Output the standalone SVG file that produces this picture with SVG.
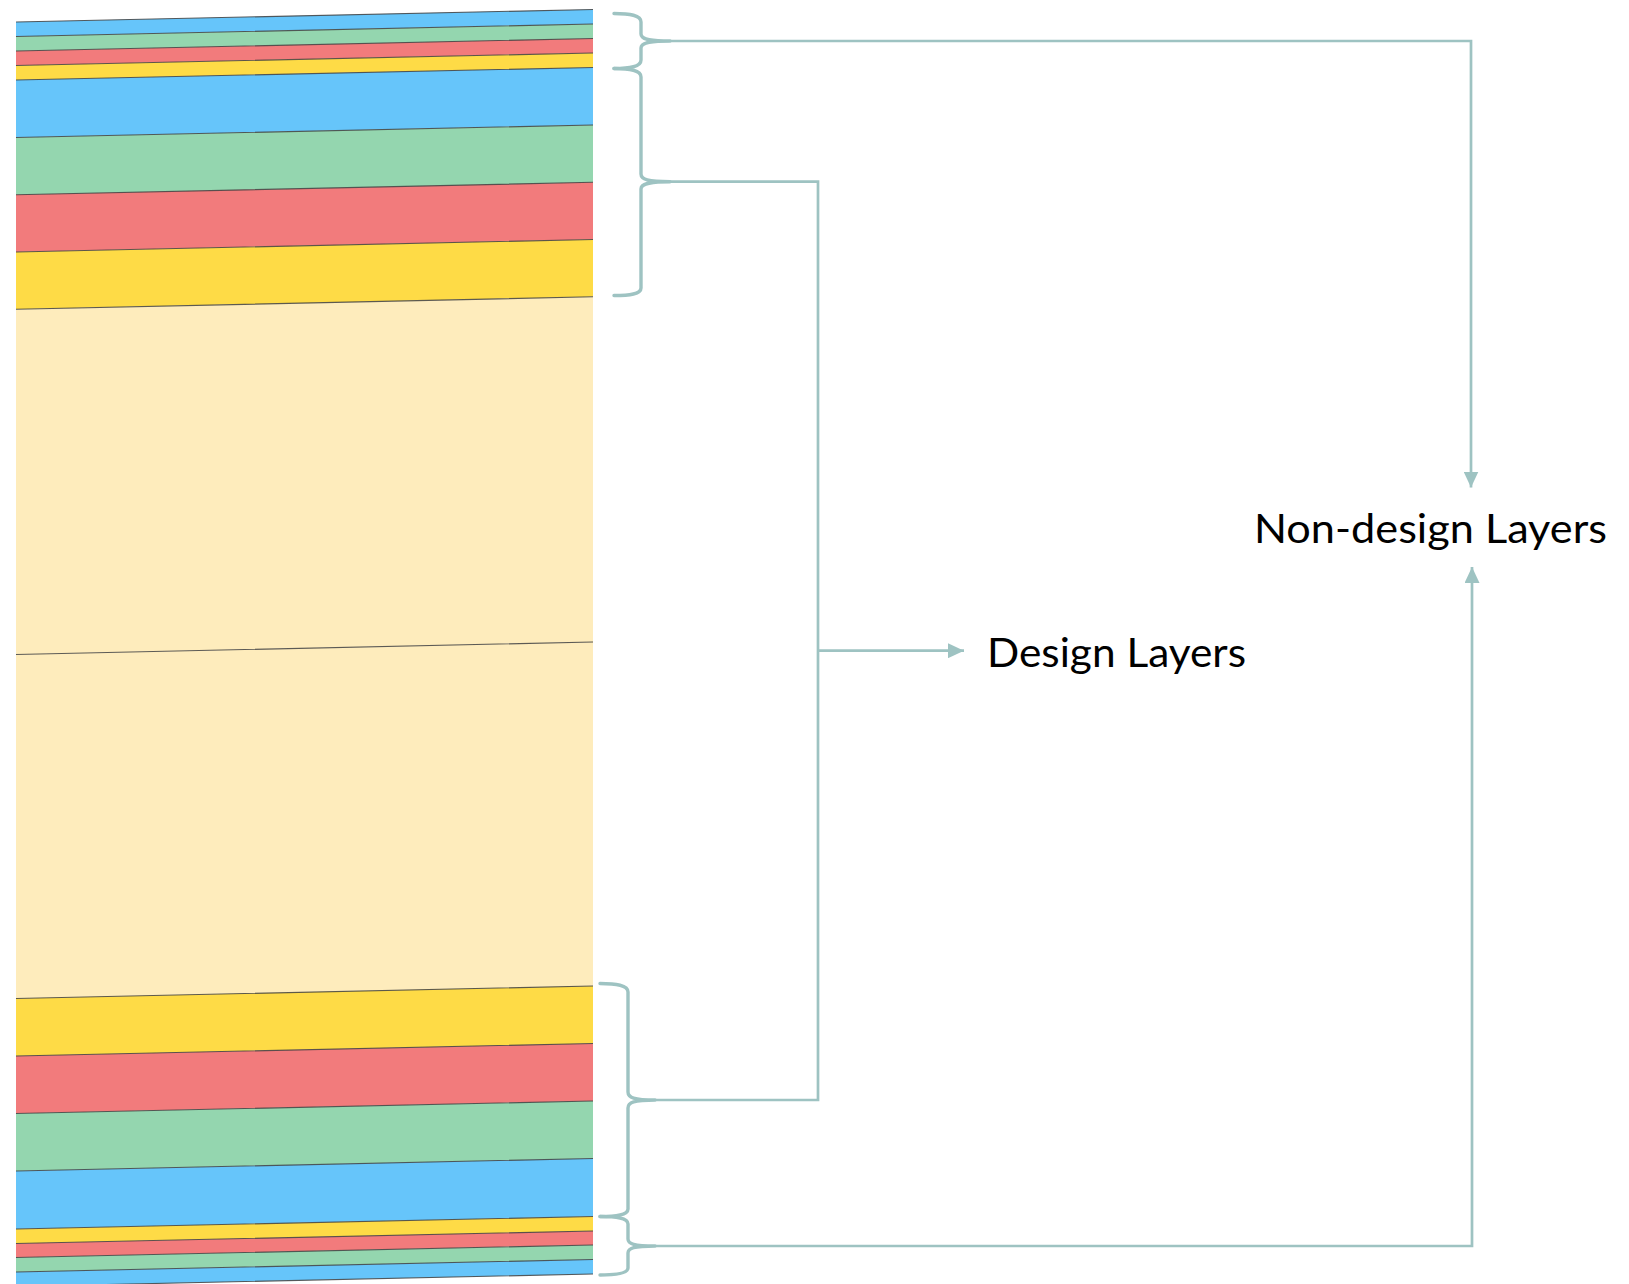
<svg xmlns="http://www.w3.org/2000/svg" width="1629" height="1284" viewBox="0 0 1629 1284">
  <style>
    .blue { fill: #66C5FA; }
    .green { fill: #94D6AF; }
    .red { fill: #F27B7C; }
    .yellow { fill: #FEDB46; }
    .cream { fill: #FEECBC; }
    .seam { stroke: #3f3f3f; stroke-width: 1.1; stroke-opacity: 0.85; fill: none; }
    .brace { fill: none; stroke: #9EC3C2; stroke-width: 3.4; stroke-linecap: round; stroke-linejoin: round; }
    .conn { fill: none; stroke: #9EC3C2; stroke-width: 2.7; }
    .label { font-family: Lato, "Open Sans", "Liberation Sans", sans-serif; font-size: 40px; fill: #000; }
  </style>
  <defs>
    <marker id="arrow" viewBox="0 0 16 15" refX="16" refY="7.5" markerWidth="16" markerHeight="15" markerUnits="userSpaceOnUse" orient="auto">
      <path d="M0,0 L16,7.5 L0,15 z" fill="#9EC3C2"/>
    </marker>
  </defs>
  <rect width="1629" height="1284" fill="#ffffff"/>

  <!-- Layer stack: each band is a slightly tilted parallelogram -->
  <g id="stack">
    <g id="top-nondesign">
      <polygon class="blue" points="16,22 593,9.5 593,24 16,36.5"/>
      <polygon class="green" points="16,36.5 593,24 593,38.5 16,51"/>
      <polygon class="red" points="16,51 593,38.5 593,53 16,65.5"/>
      <polygon class="yellow" points="16,65.5 593,53 593,67.5 16,80"/>
    </g>
    <g id="top-design">
      <polygon class="blue" points="16,80 593,67.5 593,125 16,137.5"/>
      <polygon class="green" points="16,137.5 593,125 593,182.3 16,194.8"/>
      <polygon class="red" points="16,194.8 593,182.3 593,239.5 16,252"/>
      <polygon class="yellow" points="16,252 593,239.5 593,296.8 16,309.3"/>
    </g>
    <g id="core">
      <polygon class="cream" points="16,309.3 593,296.8 593,642 16,654.5"/>
      <polygon class="cream" points="16,654.5 593,642 593,986 16,998.5"/>
    </g>
    <g id="bottom-design">
      <polygon class="yellow" points="16,998.5 593,986 593,1043.5 16,1056"/>
      <polygon class="red" points="16,1056 593,1043.5 593,1101 16,1113.5"/>
      <polygon class="green" points="16,1113.5 593,1101 593,1158.5 16,1171"/>
      <polygon class="blue" points="16,1171 593,1158.5 593,1216.5 16,1229"/>
    </g>
    <g id="bottom-nondesign">
      <polygon class="yellow" points="16,1229 593,1216.5 593,1231 16,1243.5"/>
      <polygon class="red" points="16,1243.5 593,1231 593,1245 16,1257.5"/>
      <polygon class="green" points="16,1257.5 593,1245 593,1259.5 16,1272"/>
      <polygon class="blue" points="16,1272 593,1259.5 593,1274 16,1286.5"/>
    </g>
    <!-- seams between bands -->
    <g id="seams">
      <path class="seam" stroke-opacity="0.45" d="M16,22 L593,9.5"/>
      <path class="seam" d="M16,36.5 L593,24 M16,51 L593,38.5 M16,65.5 L593,53 M16,80 L593,67.5
        M16,137.5 L593,125 M16,194.8 L593,182.3 M16,252 L593,239.5 M16,309.3 L593,296.8
        M16,654.5 L593,642 M16,998.5 L593,986
        M16,1056 L593,1043.5 M16,1113.5 L593,1101 M16,1171 L593,1158.5 M16,1229 L593,1216.5
        M16,1243.5 L593,1231 M16,1257.5 L593,1245 M16,1272 L593,1259.5 M16,1286.5 L593,1274"/>
    </g>
  </g>

  <!-- Curly braces grouping the bands -->
  <g id="braces">
    <path id="brace-top-nondesign" class="brace" d="M614,13.5 C630,13.5 641,15 641,22 L641,34 C641,39 648,41 670,41 C648,41 641,43 641,48 L641,60 C641,67 630,68.5 614,68.5"/>
    <path id="brace-top-design" class="brace" d="M614,68.5 C630,68.5 641,70 641,77 L641,174 C641,179.5 648,181.7 670,181.7 C648,181.7 641,184 641,189 L641,288 C641,294 630,295.5 614,295.5"/>
    <path id="brace-bottom-design" class="brace" d="M600,983.5 C616,983.5 628,985 628,992 L628,1092 C628,1097.5 634,1100 655,1100 C634,1100 628,1102.5 628,1108 L628,1209 C628,1215 616,1216.5 600,1216.5"/>
    <path id="brace-bottom-nondesign" class="brace" d="M600,1216.5 C616,1216.5 628,1218 628,1224 L628,1239 C628,1244 634,1246 655,1246 C634,1246 628,1248 628,1253 L628,1268 C628,1273.5 616,1275 600,1275"/>
  </g>

  <!-- Connectors from braces to labels -->
  <g id="connectors">
    <path class="conn" d="M670,41 H1471 V487.5" marker-end="url(#arrow)"/>
    <path class="conn" d="M655,1246 H1472 V567" marker-end="url(#arrow)"/>
    <path class="conn" d="M670,181.7 H818 V1100 H655"/>
    <path class="conn" d="M818,650.7 H964" marker-end="url(#arrow)"/>
  </g>

  <!-- Labels -->
  <g id="label-design">
    <text class="label" x="987" y="667" textLength="259" lengthAdjust="spacingAndGlyphs">Design Layers</text>
  </g>
  <g id="label-nondesign">
    <text class="label" x="1254" y="543" textLength="353" lengthAdjust="spacingAndGlyphs">Non-design Layers</text>
  </g>
</svg>
